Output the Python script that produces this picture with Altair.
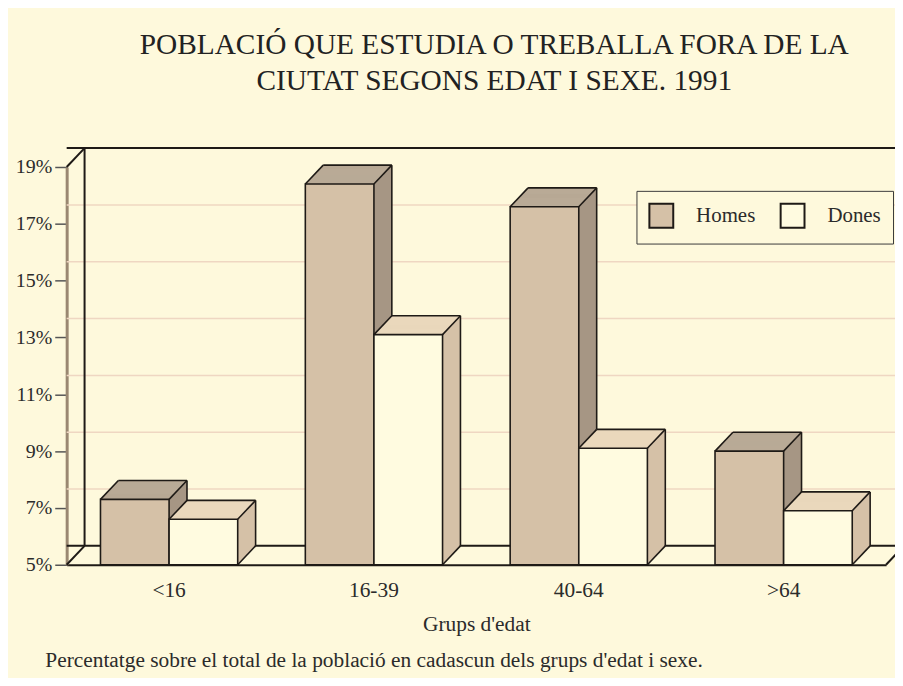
import altair as alt
import pandas as pd

# ---------------- data ----------------
groups = ["<16", "16-39", "40-64", ">64"]
sexes = ["Homes", "Dones"]
homes = [7.3, 18.4, 17.6, 9.0]
dones = [6.6, 13.1, 9.1, 6.9]
y_ticks = [5, 7, 9, 11, 13, 15, 17, 19]
title_lines = ["POBLACIÓ QUE ESTUDIA O TREBALLA FORA DE LA",
               "CIUTAT SEGONS EDAT I SEXE. 1991"]
x_title = "Grups d'edat"
footnote = "Percentatge sobre el total de la població en cadascun dels grups d'edat i sexe."

# ---------------- style ----------------
FONT = "Liberation Serif"
BG = "#fef9dc"
GRID = "#efd7c2"
INK = "#1e1a16"
TEXT = "#2b2b2b"
front_col = {"Homes": "#d5c1a7", "Dones": "#fffbe0"}
top_col = {"Homes": "#b9aa96", "Dones": "#ead8bc"}
side_col = {"Homes": "#a69684", "Dones": "#d5c1a7"}

W, H = 824, 400
BAR = 69
DX, DY = 18, 19
NSTEP = 18
EW = 1.6

bars = pd.DataFrame({
    "group": groups * 2,
    "sex": [sexes[0]] * len(groups) + [sexes[1]] * len(groups),
    "value": homes + dones,
})
ticks_df = pd.DataFrame({"v": y_ticks})

xscale = alt.Scale(domain=groups, paddingInner=0, paddingOuter=0)
yscale = alt.Scale(domain=[y_ticks[0], y_ticks[-1]], zero=False, nice=False)

xaxis = alt.Axis(
    title=x_title, labelAngle=0, ticks=False, grid=False,
    domainColor=INK, domainWidth=2,
    labelFont=FONT, labelFontSize=21.5, labelColor=TEXT, labelPadding=15,
    titleFont=FONT, titleFontSize=21.5, titleFontWeight="normal",
    titleColor=TEXT, titlePadding=13)
yaxis = alt.Axis(
    values=y_ticks, labelExpr="datum.value + '%'", grid=False,
    domainColor="#9a8872", domainWidth=3,
    tickColor="#555555", tickSize=12, tickWidth=1.5,
    labelFont=FONT, labelFontSize=20, labelColor=TEXT, labelPadding=3,
    title=footnote, titleAngle=0, titleX=-22, titleY=496,
    titleAlign="left", titleBaseline="middle",
    titleFont=FONT, titleFontSize=21.5, titleFontWeight="normal",
    titleColor=TEXT)


def X(field="group:N", **kw):
    return alt.X(field, scale=xscale, axis=xaxis, **kw)


def Y(field="value:Q"):
    return alt.Y(field, scale=yscale, axis=yaxis)


layers = []

# ---- back wall: gridlines, top / floor lines ----
tk = alt.Chart(ticks_df)
layers.append(
    tk.transform_filter((alt.datum.v > y_ticks[0]) & (alt.datum.v < y_ticks[-1]))
    .mark_rule(color=GRID, strokeWidth=1.5, xOffset=DX, x2Offset=DX, yOffset=-DY)
    .encode(y=Y("v:Q"))
)
layers.append(
    tk.transform_filter((alt.datum.v == y_ticks[0]) | (alt.datum.v == y_ticks[-1]))
    .mark_rule(color=INK, strokeWidth=2, xOffset=DX, x2Offset=DX, yOffset=-DY)
    .encode(y=Y("v:Q"))
)

agg = tk.transform_aggregate(lo="min(v)", hi="max(v)").transform_calculate(
    g0="'" + groups[0] + "'", g1="'" + groups[-1] + "'"
)
# back wall left edge
layers.append(
    agg.mark_rule(color=INK, strokeWidth=2, xOffset=DX, yOffset=-DY, y2Offset=-DY)
    .encode(x=X("g0:N", bandPosition=0), y=Y("lo:Q"), y2=alt.Y2("hi"))
)
# left diagonals (floor & top)
for fld in ["lo", "hi"]:
    layers.append(
        agg.mark_rule(color=INK, strokeWidth=2, x2Offset=DX, y2Offset=-DY)
        .encode(x=X("g0:N", bandPosition=0), x2=alt.X2("g0", bandPosition=0),
                y=Y(fld + ":Q"), y2=alt.Y2(fld))
    )
# right floor diagonal
layers.append(
    agg.mark_rule(color=INK, strokeWidth=2, x2Offset=DX, y2Offset=-DY)
    .encode(x=X("g1:N", bandPosition=1), x2=alt.X2("g1", bandPosition=1),
            y=Y("lo:Q"), y2=alt.Y2("lo"))
)

color_scale = alt.Scale(domain=sexes, range=[front_col[s] for s in sexes])
legend = alt.Legend(
    title=None, orient="none", legendX=573, legendY=24,
    direction="horizontal", symbolType="square", symbolSize=576,
    symbolStrokeColor=INK, symbolStrokeWidth=2,
    labelFont=FONT, labelFontSize=21, labelColor=TEXT,
    labelOffset=22, columnPadding=21, padding=12,
    fillColor=BG, strokeColor="#3a3a3a")

# ---- 3D bars ----
for s in sexes:
    c = -BAR / 2 if s == sexes[0] else BAR / 2
    left, right = c - BAR / 2, c + BAR / 2
    src = alt.Chart(bars).transform_filter(alt.datum.sex == s)
    # side (depth) fill
    for k in range(1, NSTEP + 1):
        dx, dy = k * DX / NSTEP, k * DY / NSTEP
        layers.append(
            src.mark_bar(width=BAR, color=side_col[s], xOffset=c + dx,
                         yOffset=-dy, y2Offset=-dy)
            .encode(x=X(), y=Y(), y2=alt.datum(y_ticks[0]))
        )
    # top face fill
    for k in range(0, NSTEP + 1):
        dx, dy = k * DX / NSTEP, k * DY / NSTEP
        layers.append(
            src.mark_bar(width=BAR, color=top_col[s], xOffset=c + dx,
                         yOffset=-dy, y2Offset=-dy + 1.6)
            .encode(x=X(), y=Y(), y2=alt.Y2("value"))
        )
    # front face
    layers.append(
        src.mark_bar(width=BAR, xOffset=c, stroke=INK, strokeWidth=EW)
        .encode(x=X(), y=Y(), y2=alt.datum(y_ticks[0]),
                color=alt.Color("sex:N", scale=color_scale, legend=legend))
    )
    # edges
    layers.append(
        src.mark_rule(color=INK, strokeWidth=EW, xOffset=left + DX,
                      x2Offset=right + DX, yOffset=-DY)
        .encode(x=X(), x2=alt.X2("group"), y=Y())
    )
    layers.append(
        src.mark_rule(color=INK, strokeWidth=EW, xOffset=right + DX,
                      yOffset=-DY, y2Offset=-DY)
        .encode(x=X(), y=Y(), y2=alt.datum(y_ticks[0]))
    )
    for xo in [left, right]:
        layers.append(
            src.mark_rule(color=INK, strokeWidth=EW, xOffset=xo,
                          x2Offset=xo + DX, y2Offset=-DY)
            .encode(x=X(), x2=alt.X2("group"), y=Y(), y2=alt.Y2("value"))
        )
    layers.append(
        src.mark_rule(color=INK, strokeWidth=EW, xOffset=right,
                      x2Offset=right + DX, y2Offset=-DY)
        .encode(x=X(), x2=alt.X2("group"), y=alt.datum(y_ticks[0]),
                y2=alt.datum(y_ticks[0]))
    )

chart = alt.layer(*layers).properties(
    width=W, height=H,
    background=BG,
    autosize=alt.AutoSizeParams(type="none"),
    padding={"left": 59, "top": 158, "right": 9, "bottom": 112},
    title=alt.TitleParams(
        text=title_lines, font=FONT, fontSize=29.5, fontWeight="normal",
        color="#222222", anchor="middle", frame="group", offset=51,
        lineHeight=36, dx=18),
).configure_view(strokeWidth=0)

chart.save("out.html", embed_options={"renderer": "svg", "actions": False})
